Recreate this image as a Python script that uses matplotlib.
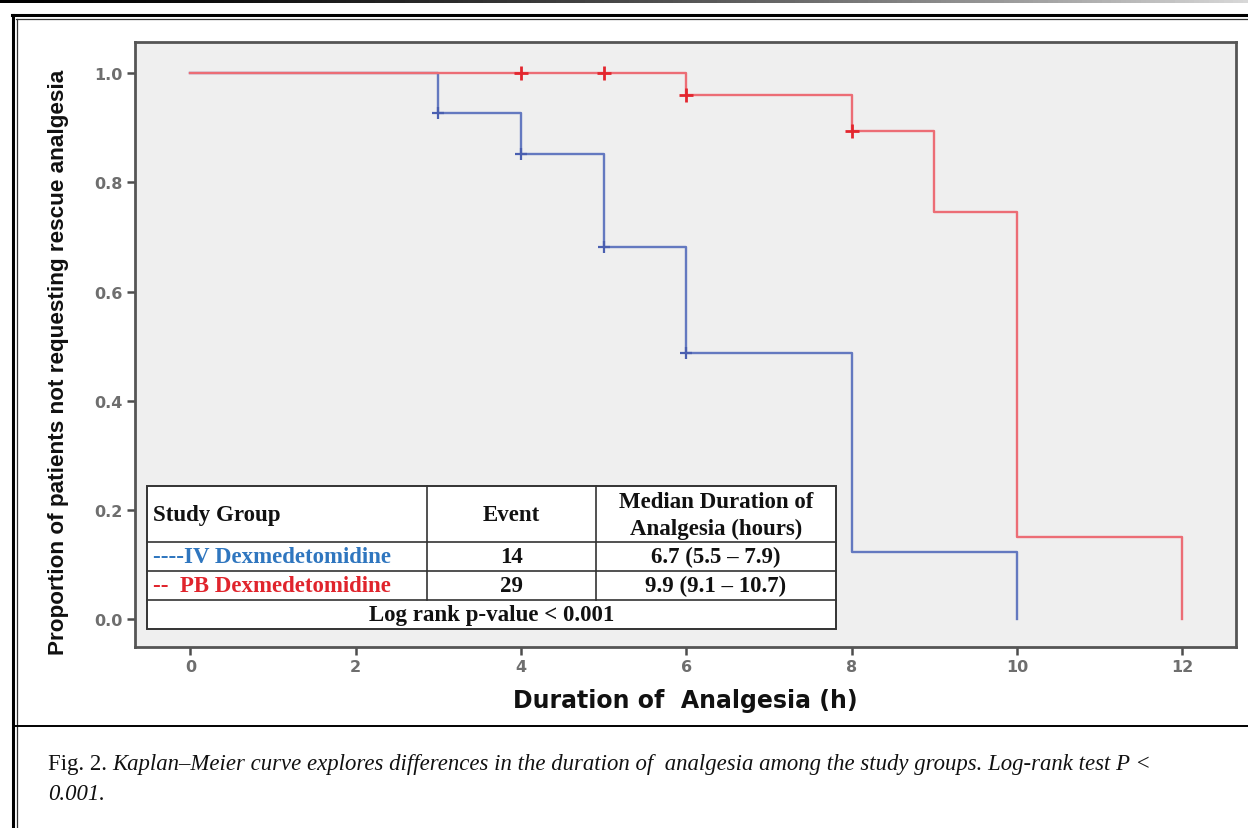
import matplotlib
matplotlib.use('Agg')
import matplotlib.pyplot as plt
import numpy as np
from matplotlib.lines import Line2D
from matplotlib.patches import Rectangle

# Kaplan-Meier steps
iv_times = [0, 3, 4, 5, 6, 8, 10]
iv_surv = [1.0, 0.927, 0.852, 0.681, 0.487, 0.123, 0.0]
iv_censor = [3, 4, 5, 6]

pb_times = [0, 6, 8, 9, 10, 12]
pb_surv = [1.0, 0.960, 0.894, 0.746, 0.150, 0.0]
pb_censor = [4, 5, 6, 8]

xticks = [0, 2, 4, 6, 8, 10, 12]
yticks = [0.0, 0.2, 0.4, 0.6, 0.8, 1.0]

table_header = ["Study Group", "Event", "Median Duration of\nAnalgesia (hours)"]
table_rows = [["----IV Dexmedetomidine", "14", "6.7 (5.5 \u2013 7.9)"],
              ["--  PB Dexmedetomidine", "29", "9.9 (9.1 \u2013 10.7)"]]
table_footer = "Log rank p-value < 0.001"

W, H = 1248, 829
fig = plt.figure(figsize=(W / 100, H / 100), dpi=100)
fig.patch.set_facecolor('white')


def fx(px):
    return px / W


def fy(py):
    return 1 - py / H


ax = fig.add_axes([fx(135), fy(648), fx(1236) - fx(135), fy(43) - fy(648)])
ax.set_facecolor('#efefef')


def surv_at(times, surv, t):
    idx = np.searchsorted(times, t, side='right') - 1
    return surv[idx]


blue_line = '#6479c0'
red_line = '#ec6d75'
ax.step(iv_times, iv_surv, where='post', color=blue_line, lw=1.7, zorder=3)
ax.step(pb_times, pb_surv, where='post', color=red_line, lw=1.7, zorder=3)
ax.plot(iv_censor, [surv_at(iv_times, iv_surv, t) for t in iv_censor], ls='none',
        marker='|', ms=8, mew=1.6, color='#4a5fb0', zorder=4)
ax.plot(iv_censor, [surv_at(iv_times, iv_surv, t) for t in iv_censor], ls='none',
        marker='_', ms=8, mew=1.6, color='#4a5fb0', zorder=4)
ax.plot(pb_censor, [surv_at(pb_times, pb_surv, t) for t in pb_censor], ls='none',
        marker='|', ms=10, mew=2.0, color='#e3262e', zorder=4)
ax.plot(pb_censor, [surv_at(pb_times, pb_surv, t) for t in pb_censor], ls='none',
        marker='_', ms=10, mew=2.0, color='#e3262e', zorder=4)

ax.set_xlim(-0.67, 12.65)
ax.set_ylim(-0.051, 1.057)
ax.set_xticks(xticks)
ax.set_yticks(yticks)
ax.set_yticklabels(['%.1f' % v for v in yticks])
ax.tick_params(direction='out', length=6, width=1.8, color='#4d4d4d',
               labelcolor='#6e6e6e', labelsize=11.5, pad=3)
for lab in ax.get_xticklabels() + ax.get_yticklabels():
    lab.set_fontweight('bold')
for s in ax.spines.values():
    s.set_color('#555555')
    s.set_linewidth(2.0)

ax.set_xlabel('Duration of  Analgesia (h)', fontsize=17, fontweight='bold',
              family='DejaVu Sans', labelpad=10, color='#111111')
ax.set_ylabel('Proportion of patients not requesting rescue analgesia', fontsize=16.2,
              fontweight='bold', family='Liberation Sans', color='#111111')
ax.yaxis.set_label_coords(-0.06, 0.472)

# table drawn inside the plot area (pixel layout)
tl, tr = 147, 836
c1, c2 = 427, 596
rows_y = [487, 543, 572, 601, 630]
tab_color = '#333333'
fig.patches.append(Rectangle((fx(tl), fy(rows_y[-1])), fx(tr) - fx(tl),
                             fy(rows_y[0]) - fy(rows_y[-1]), transform=fig.transFigure,
                             facecolor='white', edgecolor=tab_color, lw=1.4, zorder=5))
for yy in rows_y[1:-1]:
    fig.lines.append(Line2D([fx(tl), fx(tr)], [fy(yy), fy(yy)], transform=fig.transFigure,
                            color=tab_color, lw=1.2, zorder=6))
for xx in (c1, c2):
    fig.lines.append(Line2D([fx(xx), fx(xx)], [fy(rows_y[0]), fy(rows_y[3])],
                            transform=fig.transFigure, color=tab_color, lw=1.2, zorder=6))

tfont = dict(family='Liberation Serif', fontweight='bold', fontsize=16.5, zorder=7)
colx = [153, (c1 + c2) / 2, (c2 + tr) / 2]
aligns = ['left', 'center', 'center']
hy = (rows_y[0] + rows_y[1]) / 2 + 1
for i, txt in enumerate(table_header):
    fig.text(fx(colx[i]), fy(hy), txt, ha=aligns[i], va='center',
             linespacing=1.3, color='#111111', **tfont)
row_colors = ['#2f76bf', '#e0242c']
for r, row in enumerate(table_rows):
    yy = (rows_y[r + 1] + rows_y[r + 2]) / 2
    for i, txt in enumerate(row):
        col = row_colors[r] if i == 0 else '#111111'
        fig.text(fx(colx[i]), fy(yy), txt, ha=aligns[i], va='center', color=col, **tfont)
fig.text(fx((tl + tr) / 2), fy((rows_y[3] + rows_y[4]) / 2), table_footer, ha='center',
         va='center', color='#111111', **tfont)

# frame around the figure
fig.lines.append(Line2D([fx(13), fx(13)], [fy(16), 0], transform=fig.transFigure,
                        color='black', lw=2.2))
fig.lines.append(Line2D([fx(16.5), fx(16.5)], [fy(19.5), 0], transform=fig.transFigure,
                        color='#333333', lw=0.9))
fig.lines.append(Line2D([fx(12), 1], [fy(16), fy(16)], transform=fig.transFigure,
                        color='black', lw=2.2))
fig.lines.append(Line2D([fx(16), 1], [fy(19.5), fy(19.5)], transform=fig.transFigure,
                        color='#333333', lw=0.9))
fig.lines.append(Line2D([fx(13), 1], [fy(727), fy(727)], transform=fig.transFigure,
                        color='black', lw=1.4))

# dark gradient strip at the very top
gax = fig.add_axes([0, fy(4), 1, 4 / H])
gax.imshow(np.linspace(0.02, 0.9, 256)[None, :] ** 1.6, aspect='auto', cmap='gray',
           vmin=0, vmax=1)
gax.axis('off')

# caption
cap_y1, cap_y2 = 765, 795
cap_fs = 16.4
t0 = fig.text(fx(48), fy(cap_y1), 'Fig. 2. ', family='Liberation Serif', fontsize=cap_fs,
              va='center', ha='left', color='#111111')
fig.canvas.draw()
bb = t0.get_window_extent()
fig.text(bb.x1 / W, fy(cap_y1), 'Kaplan\u2013Meier curve explores differences in the duration of  '
         'analgesia among the study groups. Log-rank test P <', family='Liberation Serif',
         style='italic', fontsize=cap_fs, va='center', ha='left', color='#111111')
fig.text(fx(48), fy(cap_y2), '0.001.', family='Liberation Serif', style='italic',
         fontsize=cap_fs, va='center', ha='left', color='#111111')

fig.savefig('out.png', dpi=100)
